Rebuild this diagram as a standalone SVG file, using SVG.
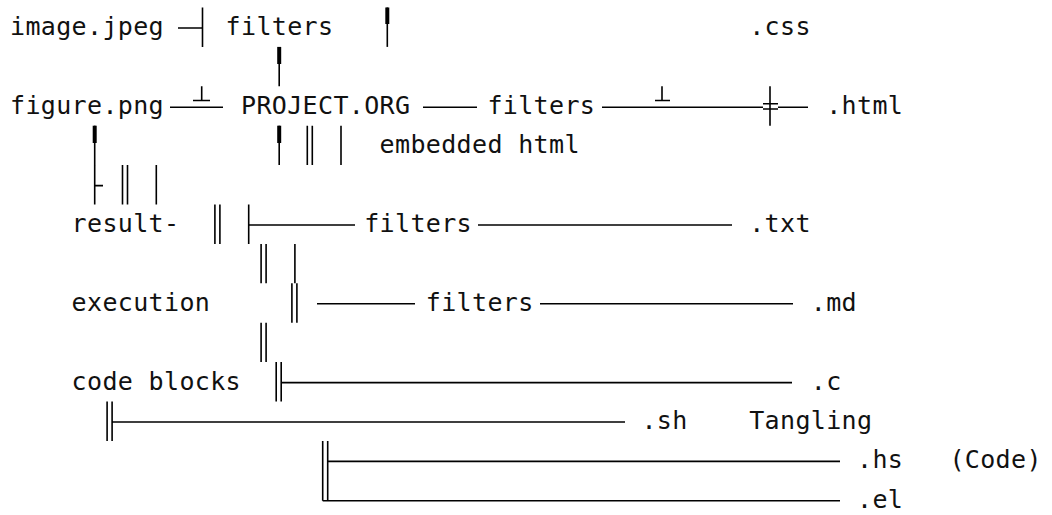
<svg xmlns="http://www.w3.org/2000/svg" width="1052" height="515" viewBox="0 0 1052 515">
<style>
text{font-family:"DejaVu Sans Mono","Liberation Mono",monospace;font-size:25px;letter-spacing:0.35px;fill:#111}
.l{stroke:#000;stroke-width:1.6;fill:none}
.h{stroke:#000;stroke-width:4;fill:none}
</style>
<rect width="1052" height="515" fill="#fff"/>
<g id="connectors">
<!-- row 0 -->
<path class="l" d="M178 28H202.5M202.5 7.5V46.9"/>
<path class="l" d="M387.3 7.5V46.9"/><path class="h" d="M387.3 7.5V24"/>
<!-- row 1 -->
<path class="l" d="M279.2 46.9V86.3"/><path class="h" d="M279.2 46.9V64"/>
<!-- row 2 -->
<path class="l" d="M170 107.3H223M201.7 86.3V100.5M193 100.5H210"/>
<path class="l" d="M423 107.3H477"/>
<path class="l" d="M602 107.3H763M662 86.3V100.5M655 100.5H670"/>
<path class="l" d="M778 107.3H808M770 86.3V125.7M763 103.8H778M763 109H778"/>
<!-- row 3 -->
<path class="l" d="M94.7 125.7V165.1"/><path class="h" d="M94.7 125.7V143"/>
<path class="l" d="M279.2 125.7V165.1"/><path class="h" d="M279.2 125.7V143"/>
<path class="l" d="M307.3 125.7V165.1M312.3 125.7V165.1M341 125.7V165.1"/>
<!-- row 4 -->
<path class="l" d="M94.7 165.1V204.5M94.7 185.6H103"/>
<path class="l" d="M122.5 165.1V204.5M127.5 165.1V204.5M156.3 165.1V204.5"/>
<!-- row 5 -->
<path class="l" d="M214.9 204.5V243.9M219.9 204.5V243.9"/>
<path class="l" d="M248.7 204.5V243.9M248.7 225H355"/>
<path class="l" d="M478 225H732"/>
<!-- row 6 -->
<path class="l" d="M261.1 243.9V283.3M266.1 243.9V283.3M294.9 243.9V283.3"/>
<!-- row 7 -->
<path class="l" d="M291.9 283.3V322.7M296.9 283.3V322.7"/>
<path class="l" d="M317 303.8H415M540 303.8H793"/>
<!-- row 8 -->
<path class="l" d="M261.1 322.7V362.1M266.1 322.7V362.1"/>
<!-- row 9 -->
<path class="l" d="M276.2 362.1V401.5M281.2 362.1V401.5M281.2 382.6H792"/>
<!-- row 10 -->
<path class="l" d="M107.1 401.5V440.9M112.1 401.5V440.9M112.1 422H625"/>
<!-- rows 11-12 -->
<path class="l" d="M322.7 440.9V500.8M327.7 440.9V500.8M327.7 461.4H840M322.7 500.8H840"/>
</g>
<g id="n-image"><text x="10" y="35">image.jpeg</text></g>
<g id="n-filters1"><text x="225.6" y="35">filters</text></g>
<g id="n-css"><text x="749.2" y="35">.css</text></g>
<g id="n-figure"><text x="10" y="113.8">figure.png</text></g>
<g id="n-project"><text x="241" y="113.8">PROJECT.ORG</text></g>
<g id="n-filters2"><text x="487.4" y="113.8">filters</text></g>
<g id="n-html"><text x="826.2" y="113.8">.html</text></g>
<g id="n-embedded"><text x="379.6" y="153.2">embedded html</text></g>
<g id="n-result"><text x="71.6" y="232">result-</text></g>
<g id="n-filters3"><text x="364.2" y="232">filters</text></g>
<g id="n-txt"><text x="749.2" y="232">.txt</text></g>
<g id="n-execution"><text x="71.6" y="310.8">execution</text></g>
<g id="n-filters4"><text x="425.8" y="310.8">filters</text></g>
<g id="n-md"><text x="810.8" y="310.8">.md</text></g>
<g id="n-codeblocks"><text x="71.6" y="389.6">code blocks</text></g>
<g id="n-c"><text x="810.8" y="389.6">.c</text></g>
<g id="n-sh"><text x="641.4" y="429">.sh</text></g>
<g id="n-tangling"><text x="749.2" y="429">Tangling</text></g>
<g id="n-hs"><text x="857" y="468.4">.hs</text></g>
<g id="n-code"><text x="949.4" y="468.4">(Code)</text></g>
<g id="n-el"><text x="857" y="507.8">.el</text></g>
</svg>
